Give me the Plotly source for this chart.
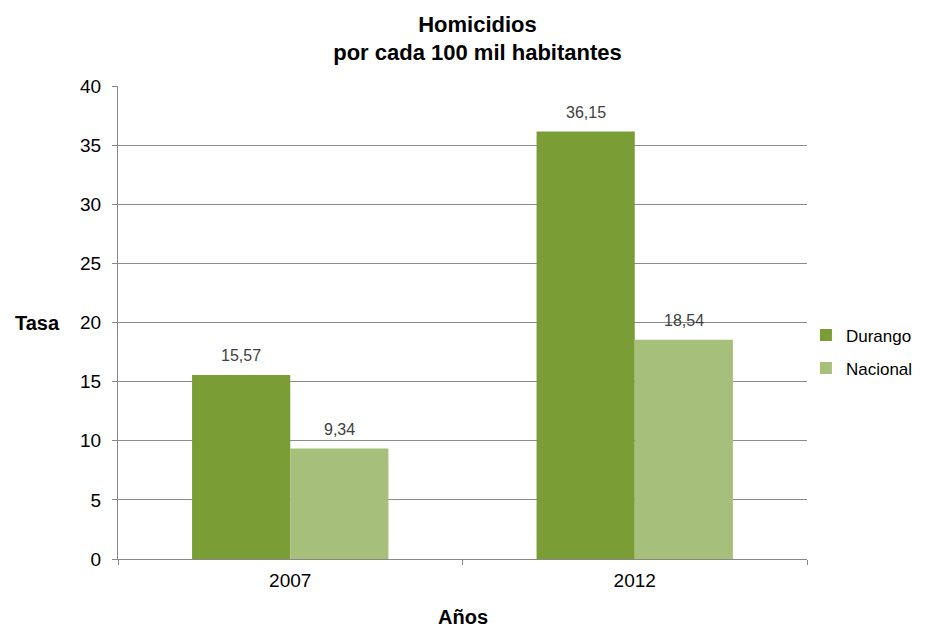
import plotly.graph_objects as go

years = ["2007", "2012"]
durango = [15.57, 36.15]
nacional = [9.34, 18.54]
series_names = ["Durango", "Nacional"]
y_ticks = [0, 5, 10, 15, 20, 25, 30, 35, 40]

FONT = "Liberation Sans, Arial, sans-serif"
col_d = "#7a9d35"
col_n = "#a6bf7a"

fig = go.Figure()
fig.add_trace(go.Bar(name=series_names[0], x=years, y=durango, legendgroup="d",
                     marker=dict(color=col_d, line=dict(width=0))))
fig.add_trace(go.Bar(name=series_names[1], x=years, y=nacional, legendgroup="n",
                     marker=dict(color=col_n, line=dict(width=0))))

def fmt(v):
    return f"{v:.2f}".replace(".", ",")

for i, y in enumerate(years):
    fig.add_annotation(x=i, y=durango[i], xshift=-49, yshift=19, text=fmt(durango[i]), showarrow=False,
                       font=dict(family=FONT, size=16, color="#404040"))
    fig.add_annotation(x=i, y=nacional[i], xshift=49, yshift=19, text=fmt(nacional[i]), showarrow=False,
                       font=dict(family=FONT, size=16, color="#404040"))

fig.add_annotation(xref="paper", yref="paper", x=-0.152, y=0.5, text="<b>Tasa</b>", showarrow=False,
                   xanchor="left", font=dict(family=FONT, size=20, color="#000"))
fig.add_annotation(xref="paper", yref="paper", x=0.5, y=-0.123, text="<b>Años</b>", showarrow=False,
                   yanchor="middle", font=dict(family=FONT, size=20, color="#000"))

fig.update_layout(
    width=929, height=631,
    margin=dict(l=118, r=121, t=86, b=72),
    paper_bgcolor="white", plot_bgcolor="white",
    separators=",.",
    barmode="group", bargap=0.43, bargroupgap=0,
    title=dict(text="<b>Homicidios<br>por cada 100 mil habitantes</b>", x=0.514, xanchor="center",
               y=0.95, yanchor="top", font=dict(family=FONT, size=22, color="#000")),
    font=dict(family=FONT, size=19, color="#000"),
    legend=dict(x=0.997, y=0.438, xanchor="left", yanchor="middle", font=dict(family=FONT, size=17, color="#000"),
                itemwidth=30, tracegroupgap=8, bgcolor="rgba(0,0,0,0)"),
    xaxis=dict(type="category", range=[-0.5, 1.5], showline=True, linecolor="#888", linewidth=1,
               tickson="boundaries", ticks="outside", ticklabelstandoff=4,
               ticklen=5, tickcolor="#888", tickfont=dict(family=FONT, size=19, color="#000")),
    yaxis=dict(range=[0, 40], tickvals=y_ticks, showline=True, linecolor="#888", linewidth=1,
               showgrid=True, gridcolor="#8c8c8c", gridwidth=1, ticks="outside", ticklen=5, tickcolor="#888",
               ticklabelstandoff=7,
               zeroline=False, tickfont=dict(family=FONT, size=19, color="#000")),
)

fig.write_html("out.html")
